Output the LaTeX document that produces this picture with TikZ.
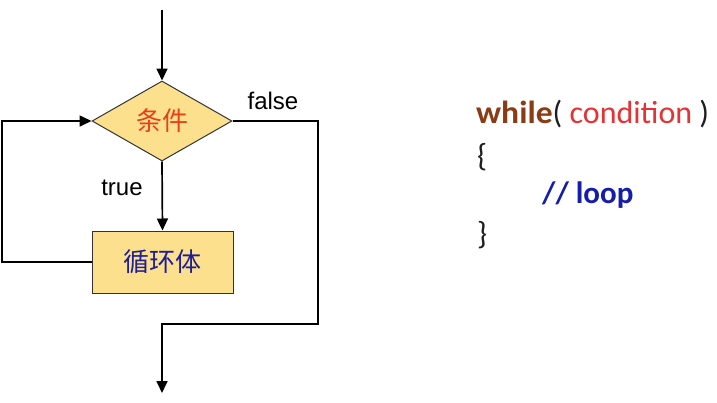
\documentclass[tikz,border=0pt]{standalone}
\usepackage{fontspec}
\setmainfont{Liberation Sans}
\newfontfamily\cjk{Noto Sans CJK SC}
\newfontfamily\codefont{Carlito}
\usetikzlibrary{shapes.geometric,arrows.meta}
\definecolor{boxfill}{RGB}{253,224,142}
\definecolor{condred}{RGB}{232,64,28}
\definecolor{bodyblue}{RGB}{30,30,150}
\definecolor{kwbrown}{RGB}{140,60,20}
\definecolor{cdred}{RGB}{230,50,50}
\definecolor{cmtblue}{RGB}{20,30,170}
\definecolor{codeblack}{RGB}{30,30,30}
\begin{document}
\begin{tikzpicture}[x=1pt,y=-1pt,
  conn/.style={line width=1.7pt,draw=black},
  arr/.style={conn,-{Triangle[length=12pt,width=11pt]}},
  flowlabel/.style={font=\fontsize{24}{26}\selectfont,inner sep=0pt},
  cjktext/.style={font=\cjk\fontsize{26}{28}\selectfont},
  codetext/.style={font=\codefont\fontsize{32}{34}\selectfont,inner sep=0pt,anchor=base west}]
\useasboundingbox[fill=white] (0,0) rectangle (717,402);
\node[diamond,draw=black!80,line width=1pt,fill=boxfill,minimum width=140pt,minimum height=80pt,aspect=1.75,inner sep=0pt,
  cjktext,text=condred] (cond) at (162,121) {条件};
\node[rectangle,draw=black!80,line width=1pt,fill=boxfill,minimum width=141pt,minimum height=62pt,inner sep=0pt,
  cjktext,text=bodyblue] (body) at (162.5,262) {循环体};
\coordinate (top) at (162,10);
\coordinate (lx) at (2,0);
\coordinate (fr) at (318,324);
\coordinate (jn) at (162,324);
\coordinate (bot) at (162,393);
\draw[arr] (top) -- (cond.north);
\draw[arr] (cond.south) -- (body.north);
\draw[arr] (body.west) -- (body.west -| lx) |- (cond.west);
\draw[arr] (cond.east) -| (fr) -- (jn) -- (bot);
\node[flowlabel] (flab) at (273,101) {false};
\node[flowlabel] (tlab) at (122,188) {true};
\node[codetext] (wh) at (476,123) {\textcolor{kwbrown}{\scalebox{1.05}[1]{\bfseries while}}\textcolor{codeblack}{(} \textcolor{cdred}{condition} \textcolor{codeblack}{)}};
\node[codetext,text=codeblack] (ob) at (477,166) {\{};
\node[codetext,text=cmtblue,font=\codefont\bfseries\fontsize{31}{33}\selectfont] (lp) at (542,203) {// loop};
\node[codetext,text=codeblack] (cb) at (477,244) {\}};
\end{tikzpicture}
\end{document}
